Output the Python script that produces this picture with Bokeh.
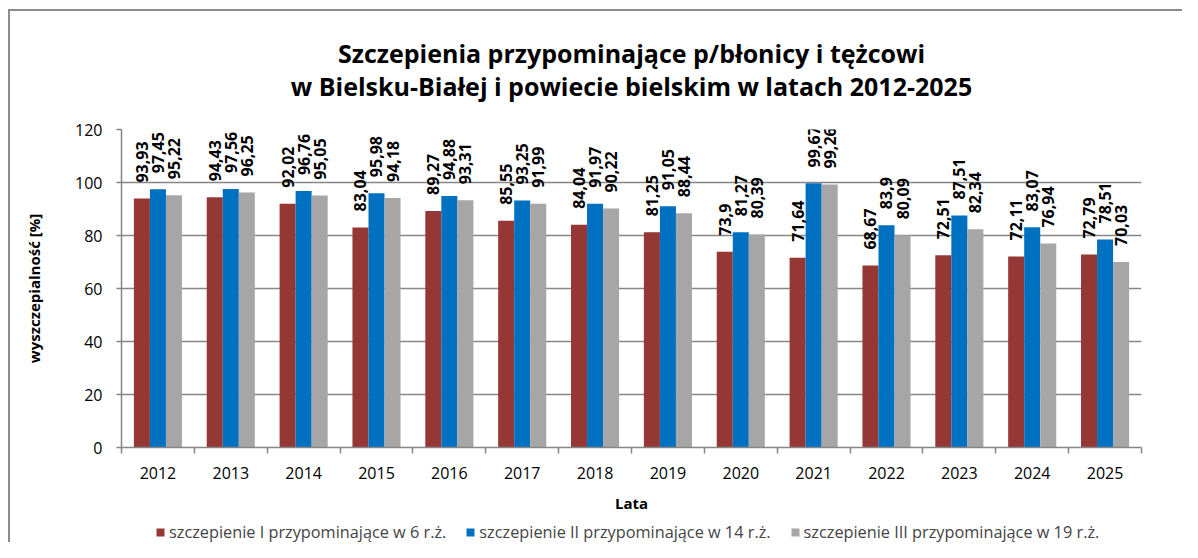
import numpy as np
from bokeh.plotting import figure
from bokeh.layouts import column
from bokeh.models import (ColumnDataSource, Range1d, FixedTicker, LabelSet, Label,
                          Legend, LegendItem)
from bokeh.transform import dodge
from bokeh.embed import file_html
from bokeh.resources import INLINE
from bokeh.core.properties import value

# ---------------- data ----------------
years = ["2012", "2013", "2014", "2015", "2016", "2017", "2018",
         "2019", "2020", "2021", "2022", "2023", "2024", "2025"]
dawka_I = [93.93, 94.43, 92.02, 83.04, 89.27, 85.55, 84.04,
           81.25, 73.9, 71.64, 68.67, 72.51, 72.11, 72.79]
dawka_II = [97.45, 97.56, 96.76, 95.98, 94.88, 93.25, 91.97,
            91.05, 81.27, 99.67, 83.9, 87.51, 83.07, 78.51]
dawka_III = [95.22, 96.25, 95.05, 94.18, 93.31, 91.99, 90.22,
             88.44, 80.39, 99.26, 80.09, 82.34, 76.94, 70.03]
series_names = ["szczepienie I przypominające w 6 r.ż.",
                "szczepienie II przypominające w 14 r.ż.",
                "szczepienie III przypominające w 19 r.ż."]
series_colors = ["#953735", "#0070C0", "#A6A6A6"]
y_ticks = [0, 20, 40, 60, 80, 100, 120]
title_lines = ["Szczepienia przypominające p/błonicy i tężcowi",
               "w Bielsku-Białej i powiecie bielskim w latach 2012-2025"]
x_label = "Lata"
y_label = "wyszczepialność [%]"

FONT = "Open Sans"
GRAY = "#868686"
BORDER = "#8c8c8c"
W = 1182
LEFT, RIGHT = 121, 41
N = len(years)


def fmt(v):
    return str(v).replace(".", ",")


pos = np.arange(N) + 0.5
src = ColumnDataSource(dict(
    x=pos,
    s1=dawka_I, s2=dawka_II, s3=dawka_III,
    t1=[fmt(v) for v in dawka_I],
    t2=[fmt(v) for v in dawka_II],
    t3=[fmt(v) for v in dawka_III],
))


def blank_fig(h):
    f = figure(width=W, height=h, x_range=Range1d(0, N), y_range=Range1d(0, h),
               output_backend="svg", toolbar_location=None, title_location=None,
               x_axis_location=None, y_axis_location=None,
               min_border_left=LEFT, min_border_right=RIGHT,
               min_border_top=0, min_border_bottom=0)
    f.grid.visible = False
    f.outline_line_color = None
    f.border_fill_alpha = 0
    f.background_fill_alpha = 0
    return f


# ---------------- title block ----------------
TH = 104
pt = blank_fig(TH)
for txt, mid in zip(title_lines, [52.5, 85.5]):
    pt.add_layout(Label(x=N / 2, y=TH - mid, text=txt, text_align="center",
                        text_baseline="middle", text_font=FONT,
                        text_font_style="bold", text_font_size="25px",
                        text_color="black"))

# ---------------- main chart ----------------
TOP, FRAME_H, BOTTOM = 25, 318, 43
MH = TOP + FRAME_H + BOTTOM
p = figure(width=W, height=MH,
           x_range=Range1d(0, N), y_range=Range1d(y_ticks[0], y_ticks[-1]),
           output_backend="svg", toolbar_location=None, title_location=None,
           min_border_left=LEFT, min_border_right=RIGHT,
           min_border_top=TOP, min_border_bottom=BOTTOM)
p.outline_line_color = None
p.border_fill_alpha = 0
p.background_fill_color = "white"

offsets = [-0.22, 0.0, 0.22]
for k, (col, tcol) in enumerate([("s1", "t1"), ("s2", "t2"), ("s3", "t3")]):
    p.vbar(x=dodge("x", offsets[k]), top=col, width=0.22, source=src,
           fill_color=series_colors[k], line_color=None)
    labels = LabelSet(x=dodge("x", offsets[k]), y=col, text=tcol, source=src,
                      angle=np.pi / 2, text_align="left", text_baseline="middle",
                      y_offset=16, text_font=value(FONT), text_font_style="bold",
                      text_font_size="16px", text_color="black")
    p.add_layout(labels)

p.xaxis.ticker = FixedTicker(ticks=list(pos), minor_ticks=list(range(N + 1)))
p.xaxis.major_label_overrides = {float(x): y for x, y in zip(pos, years)}
p.xaxis.major_tick_line_color = None
p.xaxis.major_tick_out = 6
p.xaxis.major_tick_in = 0
p.xaxis.minor_tick_out = 6
p.xaxis.minor_tick_in = 0
p.xaxis.minor_tick_line_color = GRAY
p.xaxis.minor_tick_line_width = 1.5
p.xaxis.major_label_standoff = 13

p.yaxis.ticker = FixedTicker(ticks=y_ticks)
p.yaxis.major_tick_out = 5
p.yaxis.major_tick_in = 0
p.yaxis.minor_tick_line_color = None
p.yaxis.major_tick_line_color = GRAY
p.yaxis.major_tick_line_width = 1.5
p.yaxis.major_label_standoff = 14
p.yaxis.axis_label = y_label
p.yaxis.axis_label_standoff = 28
p.yaxis.axis_label_text_font_size = "15px"
p.yaxis.axis_label_text_font_style = "bold"
p.yaxis.axis_label_text_font = FONT
p.yaxis.axis_label_text_color = "black"

for ax in (p.xaxis, p.yaxis):
    ax.axis_line_color = GRAY
    ax.axis_line_width = 1.5
    ax.major_label_text_font = FONT
    ax.major_label_text_font_size = "16px"
    ax.major_label_text_color = "black"

p.xgrid.visible = False
p.ygrid.ticker = FixedTicker(ticks=y_ticks)
p.ygrid.grid_line_color = GRAY
p.ygrid.grid_line_width = 1.5

# ---------------- x-axis title + legend block ----------------
LH = 542 - TH - MH
pl = blank_fig(LH)
pl.add_layout(Label(x=N / 2, y=LH - (502.7 - TH - MH), text=x_label,
                    text_align="center", text_baseline="middle", text_font=FONT,
                    text_font_style="bold", text_font_size="15px",
                    text_color="black"))
swatches = [pl.vbar(x=[-1], top=[0], width=0.1, fill_color=c, line_color=None)
            for c in series_colors]
legend = Legend(items=[LegendItem(label=n, renderers=[r])
                       for n, r in zip(series_names, swatches)],
                orientation="horizontal", location=(155 - LEFT, -1),
                glyph_width=10, glyph_height=10, label_standoff=4, spacing=19,
                padding=0, margin=0, border_line_color=None,
                background_fill_alpha=0, label_text_font=FONT,
                label_text_font_size="16.3px", label_height=14)
pl.add_layout(legend, "center")

page = column(pt, p, pl, spacing=0)
page.styles = {
    "background-image": f"linear-gradient({BORDER}, {BORDER}), linear-gradient({BORDER}, {BORDER})",
    "background-size": "2px 100%, 100% 2px",
    "background-position": "8px 9px, 8px 9px",
    "background-repeat": "no-repeat",
}

open("out.html", "w").write(file_html(page, INLINE))
